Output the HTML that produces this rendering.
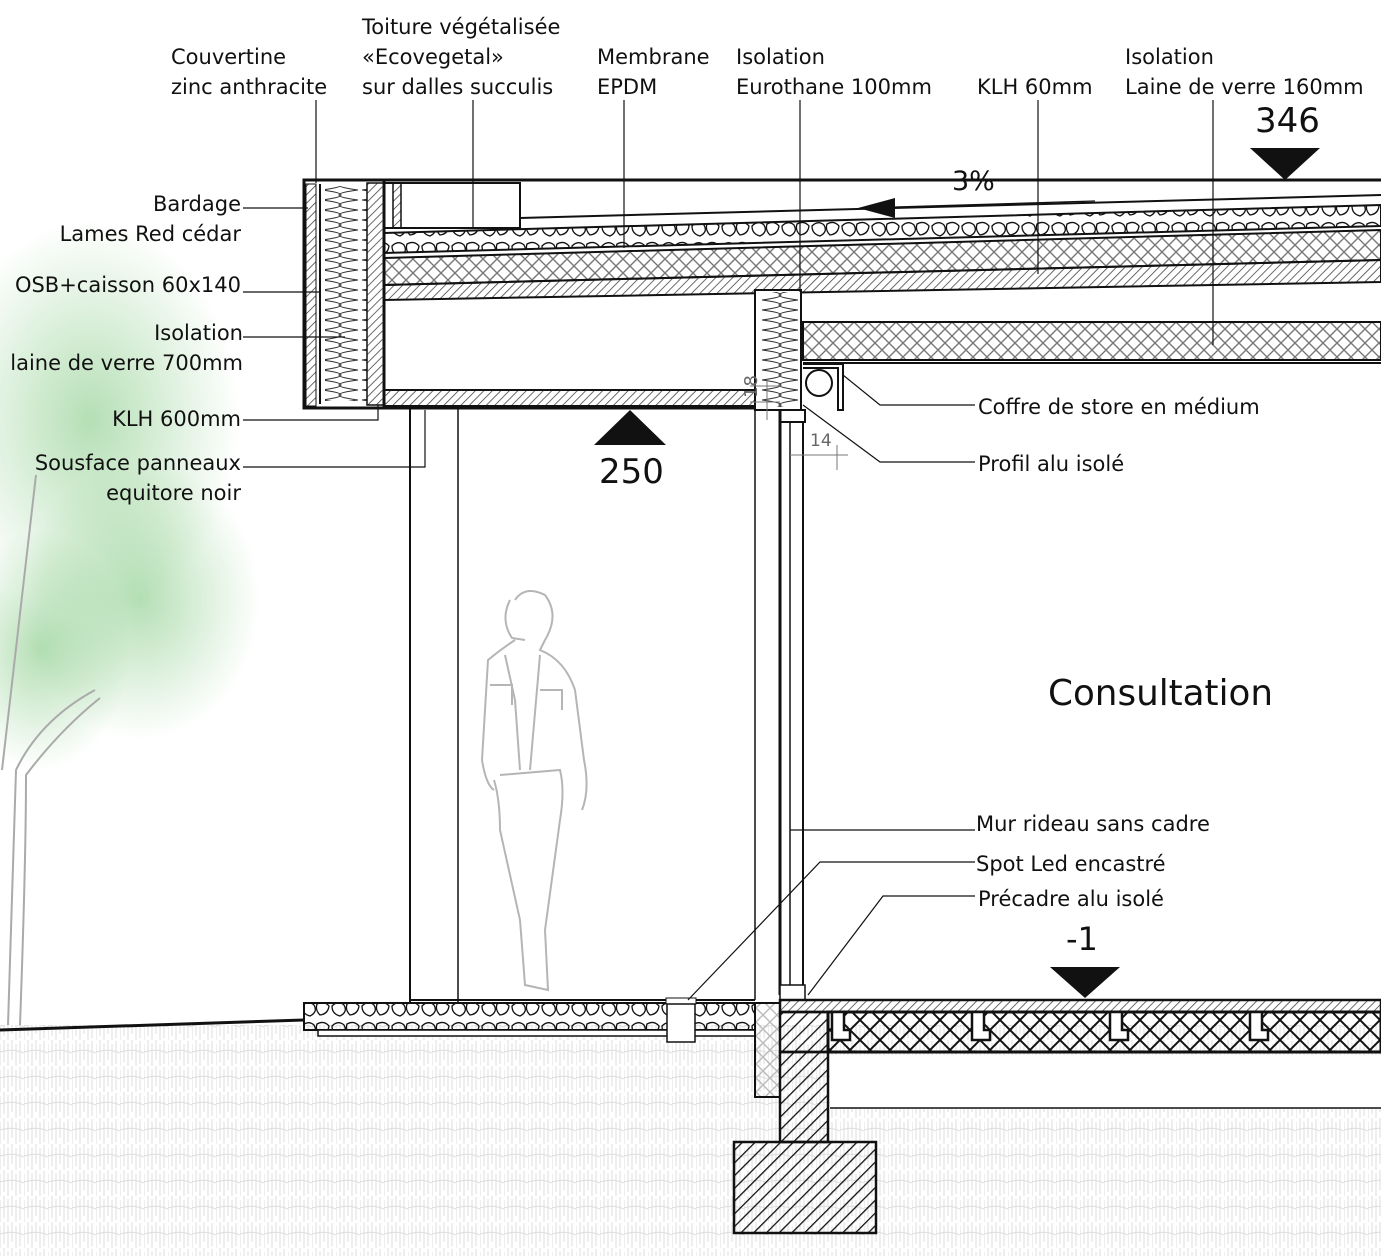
<!DOCTYPE html>
<html><head><meta charset="utf-8"><style>
html,body{margin:0;padding:0;background:#fff}
svg{display:block}
text{font-family:"DejaVu Sans","Liberation Sans",sans-serif;fill:#111}
</style></head><body>
<svg width="1381" height="1256" viewBox="0 0 1381 1256" xmlns="http://www.w3.org/2000/svg">
<defs>
<pattern id="hatch" width="6" height="6" patternUnits="userSpaceOnUse" patternTransform="rotate(45)"><line x1="0" y1="0" x2="0" y2="6" stroke="#444" stroke-width="1.6"/></pattern>
<pattern id="hatchB" width="9" height="9" patternUnits="userSpaceOnUse" patternTransform="rotate(45)"><line x1="0" y1="0" x2="0" y2="9" stroke="#111" stroke-width="2.6"/></pattern>
<pattern id="cross" width="14" height="14" patternUnits="userSpaceOnUse"><path d="M0,0 L14,14 M14,0 L0,14" stroke="#777" stroke-width="1.4"/></pattern>
<pattern id="crossB" width="20" height="20" patternUnits="userSpaceOnUse"><path d="M0,0 L20,20 M20,0 L0,20" stroke="#111" stroke-width="2"/></pattern>
<pattern id="crossL" width="14" height="14" patternUnits="userSpaceOnUse"><path d="M0,0 L14,14 M14,0 L0,14" stroke="#bbb" stroke-width="1.4"/></pattern>
<pattern id="stone" width="30" height="20" patternUnits="userSpaceOnUse"><path d="M2,6 Q8,0 14,5 Q18,12 10,16 Q2,14 2,6 Z M17,4 Q24,0 29,6 Q28,14 20,15 Q15,10 17,4 Z" fill="none" stroke="#111" stroke-width="1.3"/></pattern>
<pattern id="wool" width="40" height="10" patternUnits="userSpaceOnUse"><path d="M2,0 Q40,5 2,10 M38,0 Q0,5 38,10" fill="none" stroke="#333" stroke-width="1.1"/></pattern>
<pattern id="ground" width="24" height="26" patternUnits="userSpaceOnUse"><path d="M0,4 V26 M4,0 V22 M8,3 V26 M12,0 V20 M16,4 V26 M20,1 V24 M0,12 Q12,8 24,13" fill="none" stroke="#dcdcdc" stroke-width="1"/></pattern>
<radialGradient id="leaf"><stop offset="0" stop-color="#6bbf6b" stop-opacity=".5"/><stop offset="1" stop-color="#6bbf6b" stop-opacity="0"/></radialGradient>
</defs>

<!-- tree greenery -->
<ellipse cx="90" cy="420" rx="150" ry="200" fill="url(#leaf)"/>
<ellipse cx="140" cy="600" rx="120" ry="140" fill="url(#leaf)"/>
<ellipse cx="40" cy="650" rx="90" ry="120" fill="url(#leaf)"/>
<path d="M8,1025 Q14,850 16,770 Q40,720 95,690 M20,1025 Q26,860 26,775 Q60,730 100,698 M2,770 L36,475" fill="none" stroke="#aaa" stroke-width="2"/>

<!-- ground -->
<rect x="0" y="1025" width="1381" height="231" fill="url(#ground)"/>
<path d="M0,1030 L304,1020" stroke="#111" stroke-width="3"/>
<rect x="830" y="1055" width="551" height="53" fill="#fff"/>
<line x1="830" y1="1108" x2="1381" y2="1108" stroke="#111" stroke-width="1.5"/>

<!-- roof layers -->
<path d="M384,233 L1381,205 L1381,226 L384,253 Z" fill="url(#stone)" stroke="#111" stroke-width="2"/>
<path d="M384,258 L1381,230 L1381,260 L384,285 Z" fill="url(#cross)" stroke="#111" stroke-width="2"/>
<path d="M384,285 L1381,260 L1381,282 L384,300 Z" fill="url(#hatch)" stroke="#111" stroke-width="2"/>
<path d="M520,218 L1381,195" stroke="#111" stroke-width="2"/>
<line x1="304" y1="180" x2="1381" y2="180" stroke="#111" stroke-width="3"/>
<rect x="384" y="183" width="136" height="45" fill="#fff" stroke="#111" stroke-width="2"/>
<rect x="393" y="183" width="8" height="45" fill="url(#hatch)" stroke="#111" stroke-width="1.5"/>

<!-- wall -->
<rect x="304" y="180" width="80" height="228" fill="#fff" stroke="#111" stroke-width="3"/>
<rect x="306" y="184" width="10" height="222" fill="url(#hatch)" stroke="#111" stroke-width="1"/>
<line x1="320" y1="184" x2="320" y2="404" stroke="#111" stroke-width="2"/>
<rect x="325" y="186" width="42" height="215" fill="url(#wool)"/>
<rect x="367" y="183" width="17" height="222" fill="url(#hatch)" stroke="#111" stroke-width="1.5"/>

<!-- soffit -->
<rect x="384" y="390" width="396" height="16" fill="url(#hatch)" stroke="#111" stroke-width="2"/>
<line x1="304" y1="408" x2="780" y2="408" stroke="#111" stroke-width="3"/>
<rect x="755" y="290" width="46" height="120" fill="#fff" stroke="#111" stroke-width="2"/>
<rect x="758" y="292" width="40" height="115" fill="url(#wool)"/>
<rect x="803" y="322" width="578" height="38" fill="url(#cross)" stroke="#111" stroke-width="2"/>
<line x1="803" y1="363" x2="1381" y2="363" stroke="#111" stroke-width="2"/>
<circle cx="819" cy="383" r="13" fill="none" stroke="#111" stroke-width="2"/>
<path d="M803,364 L843,364 L843,410 L838,410 L838,368 L803,368" fill="none" stroke="#111" stroke-width="2"/>

<!-- columns & curtain wall -->
<line x1="410" y1="408" x2="410" y2="1003" stroke="#111" stroke-width="2"/>
<line x1="458" y1="408" x2="458" y2="1003" stroke="#111" stroke-width="1.5"/>
<line x1="755" y1="410" x2="755" y2="1000" stroke="#111" stroke-width="1.5"/>
<rect x="780" y="410" width="25" height="12" fill="#fff" stroke="#111" stroke-width="2"/>
<line x1="780" y1="410" x2="780" y2="995" stroke="#111" stroke-width="3"/>
<line x1="790" y1="422" x2="790" y2="985" stroke="#111" stroke-width="1.5"/>
<line x1="803" y1="422" x2="803" y2="990" stroke="#111" stroke-width="2"/>
<rect x="780" y="985" width="25" height="15" fill="#fff" stroke="#111" stroke-width="1.5"/>

<!-- dims -->
<g stroke="#777" stroke-width="1" fill="none"><line x1="767" y1="380" x2="767" y2="420"/><line x1="750" y1="386" x2="780" y2="386"/><line x1="750" y1="402" x2="780" y2="402"/><line x1="790" y1="455" x2="848" y2="455"/><line x1="837" y1="445" x2="837" y2="470"/></g>
<text x="0" y="0" font-size="18" transform="translate(757,398) rotate(-90)" style="fill:#666">18</text>
<text x="810" y="446" font-size="17" style="fill:#666">14</text>

<!-- outdoor floor -->
<rect x="304" y="1003" width="451" height="27" fill="url(#stone)" stroke="#111" stroke-width="2"/>
<rect x="318" y="1030" width="437" height="6" fill="#fff" stroke="#111" stroke-width="1.5"/>
<line x1="410" y1="1000" x2="755" y2="1000" stroke="#111" stroke-width="2"/>
<rect x="666" y="998" width="30" height="6" fill="#fff" stroke="#111" stroke-width="1"/>
<rect x="667" y="1004" width="28" height="38" fill="#fff" stroke="#111" stroke-width="1.5"/>

<!-- indoor floor -->
<rect x="780" y="1000" width="601" height="12" fill="url(#hatch)" stroke="#111" stroke-width="2.5"/>
<rect x="828" y="1012" width="553" height="40" fill="url(#crossB)" stroke="#111" stroke-width="3"/>
<g fill="#fff" stroke="#111" stroke-width="2.5">
<path d="M832,1012 h12 v18 h6 v10 h-18 z"/><path d="M972,1012 h12 v18 h6 v10 h-18 z"/><path d="M1110,1012 h12 v18 h6 v10 h-18 z"/><path d="M1250,1012 h12 v18 h6 v10 h-18 z"/>
</g>
<rect x="755" y="1003" width="25" height="94" fill="url(#crossL)" stroke="#111" stroke-width="2"/>
<rect x="780" y="1012" width="48" height="40" fill="url(#hatchB)" stroke="#111" stroke-width="2.5"/>
<rect x="780" y="1052" width="48" height="90" fill="url(#hatchB)" stroke="#111" stroke-width="2.5"/>
<rect x="734" y="1142" width="142" height="91" fill="url(#hatchB)" stroke="#111" stroke-width="2.5"/>

<!-- person -->
<g fill="none" stroke="#b5b5b5" stroke-width="2">
<path d="M515,600 Q525,585 545,595 Q560,615 545,640 L540,650 Q565,660 575,690 L584,760 Q590,790 582,810 M515,640 Q500,650 488,660 L482,760 Q486,785 494,790 M505,655 L515,700 L520,770 M540,655 L530,770 M494,780 Q500,800 500,830 L520,920 L525,985 L548,990 L545,930 L560,820 Q565,790 560,770 L500,775 M510,600 Q500,620 512,638 L525,640"/>
<path d="M490,685 h22 v20 M540,690 h22 v20"/>
</g>

<!-- levels -->
<polygon points="1250,148 1320,148 1285,180" fill="#111"/>
<text x="1255" y="132" font-size="34">346</text>
<polygon points="594,445 666,445 630,410" fill="#111"/>
<text x="599" y="483" font-size="34">250</text>
<polygon points="1050,967 1120,967 1085,998" fill="#111"/>
<text x="1066" y="950" font-size="32">-1</text>
<text x="952" y="190" font-size="27">3%</text>
<line x1="895" y1="207" x2="1095" y2="201" stroke="#111" stroke-width="1.2"/>
<polygon points="858,208 895,198 895,218" fill="#111"/>

<text x="1048" y="705" font-size="36" textLength="225" lengthAdjust="spacingAndGlyphs">Consultation</text>

<!-- top labels -->
<g font-size="21">
<text x="171" y="64">Couvertine</text><text x="171" y="94">zinc anthracite</text>
<text x="362" y="34">Toiture végétalisée</text><text x="362" y="64">«Ecovegetal»</text><text x="362" y="94">sur dalles succulis</text>
<text x="597" y="64">Membrane</text><text x="597" y="94">EPDM</text>
<text x="736" y="64">Isolation</text><text x="736" y="94">Eurothane 100mm</text>
<text x="977" y="94">KLH 60mm</text>
<text x="1125" y="64">Isolation</text><text x="1125" y="94">Laine de verre 160mm</text>
</g>
<g stroke="#111" stroke-width="1.2" fill="none">
<line x1="316" y1="100" x2="316" y2="183"/>
<line x1="473" y1="100" x2="473" y2="228"/>
<line x1="624" y1="100" x2="624" y2="248"/>
<line x1="800" y1="100" x2="800" y2="292"/>
<line x1="1038" y1="100" x2="1038" y2="274"/>
<line x1="1213" y1="100" x2="1213" y2="345"/>
<line x1="243" y1="208" x2="308" y2="208"/>
<line x1="243" y1="292" x2="320" y2="292"/>
<line x1="243" y1="337" x2="345" y2="337"/>
<polyline points="243,420 378,420 378,405"/>
<polyline points="243,467 425,467 425,410"/>
<polyline points="843,375 880,405 975,405"/>
<polyline points="803,405 880,462 975,462"/>
<line x1="790" y1="830" x2="975" y2="830"/>
<polyline points="975,862 820,862 688,1000"/>
<polyline points="975,896 883,896 808,995"/>
</g>
<g font-size="21" text-anchor="end">
<text x="241" y="211">Bardage</text><text x="241" y="241">Lames Red cédar</text>
<text x="241" y="292">OSB+caisson 60x140</text>
<text x="243" y="340">Isolation</text><text x="243" y="370">laine de verre 700mm</text>
<text x="241" y="426">KLH 600mm</text>
<text x="241" y="470">Sousface panneaux</text><text x="241" y="500">equitore noir</text>
</g>
<g font-size="21">
<text x="978" y="414">Coffre de store en médium</text>
<text x="978" y="471">Profil alu isolé</text>
<text x="976" y="831">Mur rideau sans cadre</text>
<text x="976" y="871">Spot Led encastré</text>
<text x="978" y="906">Précadre alu isolé</text>
</g>
</svg>
</body></html>
